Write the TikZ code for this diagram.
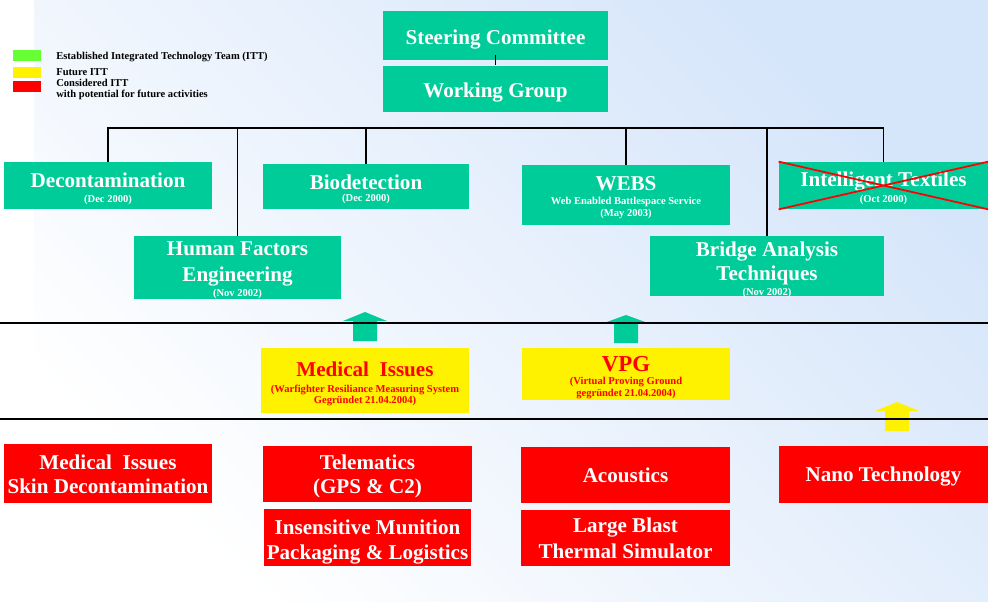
\documentclass[tikz,border=0pt]{standalone}
\usepackage{fontspec}
\setmainfont{Liberation Serif}
\usetikzlibrary{positioning}
\definecolor{ittgreen}{RGB}{0,204,153}
\definecolor{legreen}{RGB}{102,255,51}
\definecolor{bgblue}{RGB}{213,229,250}
\newdimen\pxu \pxu=0.5669pt
\newcommand\subline[1]{{\fontsize{6}{7.5}\selectfont #1}}
\newcommand\lift[1]{\rule{0pt}{#1\pxu}}
\newcommand\drop[1][3pt]{\rule[-#1]{0pt}{0pt}}
\newcommand\gap[1]{\\[#1pt]}

\begin{document}
\begin{tikzpicture}[
				x=0.02cm,y=-0.02cm,
				box/.style={rectangle,inner sep=0pt,align=center,font=\bfseries\fontsize{12}{14.5}\selectfont},
				est/.style={box,fill=ittgreen,text=white},
				future/.style={box,fill=yellow,text=red},
				considered/.style={box,fill=red,text=white},
				swatch/.style={rectangle,inner sep=0pt,minimum width=0.56cm,minimum height=0.22cm},
				legtext/.style={anchor=west,inner sep=0pt,align=left,font=\bfseries\fontsize{6}{6.6}\selectfont},
				link/.style={draw=black,line width=1pt},
				sep/.style={draw=black,line width=1.1pt}
				]
				
				% sfondo
				\useasboundingbox (0,0) rectangle (988,602);
				\fill[white] (0,0) rectangle (988,602);
				\shade[top color=bgblue,bottom color=white,shading angle=-45] (34,0) rectangle (988,602);
				
				% legenda
				\node[swatch,fill=legreen] (swG) at (27,55.5) {};
				\node[swatch,fill=yellow] (swY) at (27,72) {};
				\node[swatch,fill=red] (swR) at (27,86.5) {};
				\node[legtext] (legG) at (56,57) {Established Integrated Technology Team (ITT)};
				\node[legtext] (legY) at (56,72) {Future ITT};
				\node[legtext] (legR) at (56,89.5) {Considered ITT\\with potential for future activities};
				
				% comitato
				\node[est,minimum width=4.5cm,minimum height=0.98cm] (sc) at (495.5,35.5) {\lift{22.9}Steering Committee\drop};
				\node[est,minimum width=4.5cm,minimum height=0.92cm,below=0.1cm of sc] (wg) {\lift{22.7}Working Group\drop};
				
				% ITT stabiliti
				\node[est,minimum width=4.16cm,minimum height=0.94cm] (decon) at (108,185.5) {\lift{24.3}Decontamination\gap{-5.77}\subline{(Dec 2000)}\drop};
				\node[est,minimum width=4.12cm,minimum height=0.9cm] (bio) at (366,186.5) {\lift{23.5}Biodetection\gap{-7.9}\subline{(Dec 2000)}\drop};
				\node[est,minimum width=4.16cm,minimum height=1.2cm] (webs) at (626,195) {\lift{22}WEBS\gap{-5.99}\subline{Web Enabled Battlespace Service}\gap{-7.87}\subline{(May 2003)}\drop};
				\node[est,minimum width=4.18cm,minimum height=0.94cm] (textiles) at (883.5,185.5) {\lift{23.7}Intelligent Textiles\gap{-5.43}\subline{(Oct 2000)}\drop};
				\node[est,minimum width=4.14cm,minimum height=1.26cm] (hfe) at (237.5,267.5) {\lift{19.8}Human Factors\\Engineering\gap{-5.99}\subline{(Nov 2002)}\drop[2.5\pxu]};
				\node[est,minimum width=4.68cm,minimum height=1.2cm] (bat) at (767,266) {\lift{20.3}Bridge Analysis\gap{-0.89}Techniques\gap{-5.6}\smash{\subline{(Nov 2002)}}};
				
				% ITT futuri
				\node[future,minimum width=4.16cm,minimum height=1.3cm] (med) at (365,380.5) {\lift{24.3}Medical~~Issues\gap{-5.26}\subline{(Warfighter Resiliance Measuring System}\gap{-7.87}\subline{Gegründet 21.04.2004)}\drop};
				\node[future,minimum width=4.16cm,minimum height=1.04cm] (vpg) at (626,374) {\lift{22.2}{\fontsize{13}{15}\selectfont VPG}\gap{-6.96}\subline{(Virtual Proving Ground}\gap{-7.47}\subline{gegründet 21.04.2004)}\drop[2.5\pxu]};
				
				% ITT considerati
				\node[considered,minimum width=4.16cm,minimum height=1.18cm] (skin) at (108,473.5) {\lift{21.6}Medical~~Issues\gap{-0.5}Skin Decontamination\drop};
				\node[considered,minimum width=4.18cm,minimum height=1.12cm] (tele) at (367.5,474) {\lift{20.6}Telematics\gap{-0.5}(GPS \& C2)\drop};
				\node[considered,minimum width=4.16cm,minimum height=1.14cm,below=0.12cm of tele] (ims) {\lift{25.6}Insensitive Munition\gap{-0.15}Packaging \& Logistics\drop};
				\node[considered,minimum width=4.18cm,minimum height=1.12cm] (acou) at (625.5,475) {\lift{20.7}Acoustics\drop};
				\node[considered,minimum width=4.18cm,minimum height=1.12cm,below=0.12cm of acou] (lbts) {\lift{21.3}Large Blast\gap{0.58}Thermal Simulator\drop};
				\node[considered,minimum width=4.18cm,minimum height=1.14cm] (nano) at (883.5,474) {\lift{20.7}Nano Technology\drop};
				
				% Textiles cancellato
				\draw[red,line width=1pt] (textiles.north west) -- (textiles.south east);
				\draw[red,line width=1pt] (textiles.south west) -- (textiles.north east);
				
				% collegamenti
				\coordinate (bar) at (0,128);
				\draw[link] ([yshift=0.1cm]sc.south) -- (wg.north);
				\draw[link] (decon.north) -- (decon.north |- bar) -- (textiles.north |- bar) -- (textiles.north);
				\foreach \n in {hfe,bio,webs,bat}
					\draw[link] (\n.north) -- (\n.north |- bar);
				
				% frecce
				\fill[ittgreen] (353,341) -- (353,321) -- (343,321) -- (365,312) -- (387,321) -- (377,321) -- (377,341) -- cycle;
				\fill[ittgreen] (614,343) -- (614,323) -- (604,323) -- (626,315) -- (648,323) -- (638,323) -- (638,343) -- cycle;
				\fill[yellow] (885,431) -- (885,411) -- (875,411) -- (897,402) -- (919,411) -- (909,411) -- (909,431) -- cycle;
				
				% separatori
				\draw[sep] (0,323) -- (988,323);
				\draw[sep] (0,419) -- (988,419);
				
			\end{tikzpicture}
\end{document}
